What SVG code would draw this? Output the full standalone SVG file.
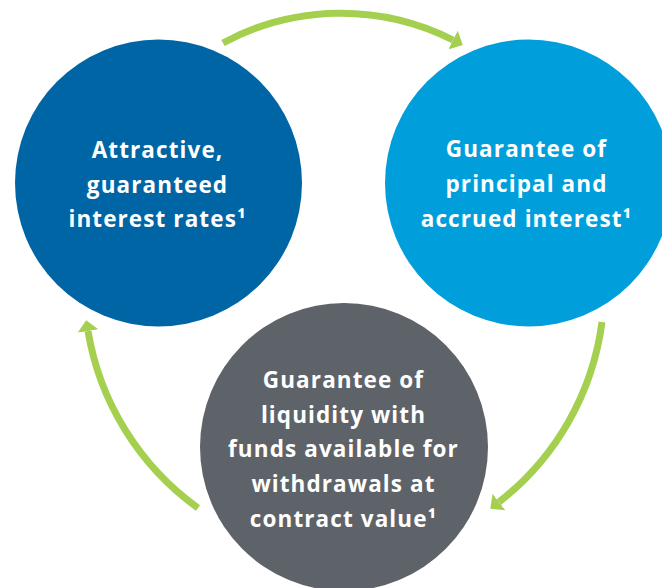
<svg xmlns="http://www.w3.org/2000/svg" width="662" height="588" viewBox="0 0 662 588">
<style>
.lbl{font-family:"Open Sans","Liberation Sans",sans-serif;font-weight:700;font-size:22.5px;letter-spacing:1.1px;fill:#ffffff;text-anchor:middle}
.arc{fill:none;stroke:#A5D04F;stroke-width:7;marker-end:url(#ah)}
</style>
<defs>
<marker id="ah" markerUnits="userSpaceOnUse" viewBox="0 -10.5 11 21" refX="0" refY="0" markerWidth="11" markerHeight="21" orient="auto">
<path d="M0,-10.5 L11,0 L0,10.5 z" fill="#A5D04F"/>
</marker>
</defs>
<rect width="662" height="588" fill="#ffffff"/>
<g id="connectors">
<path class="arc" d="M223,43 A248,248 0 0 1 453,40"/>
<path class="arc" d="M602,322 A273,273 0 0 1 499,502"/>
<path class="arc" d="M198,508 A273,273 0 0 1 88,331"/>
</g>
<g id="node-rates">
<circle cx="158.5" cy="183" r="143.5" fill="#0065A4"/>
<text class="lbl" x="157.5" y="157.5">Attractive,</text>
<text class="lbl" x="157.5" y="192.5">guaranteed</text>
<text class="lbl" x="157.5" y="227">interest rates¹</text>
</g>
<g id="node-principal">
<circle cx="528.5" cy="183" r="143.5" fill="#009FDB"/>
<text class="lbl" x="526.5" y="157">Guarantee of</text>
<text class="lbl" x="526.5" y="192">principal and</text>
<text class="lbl" x="526.5" y="227">accrued interest¹</text>
</g>
<g id="node-liquidity">
<circle cx="344" cy="447" r="144" fill="#5E6369"/>
<text class="lbl" x="343.5" y="387.5">Guarantee of</text>
<text class="lbl" x="343.5" y="422.5">liquidity with</text>
<text class="lbl" x="343.5" y="457">funds available for</text>
<text class="lbl" x="343.5" y="491.5">withdrawals at</text>
<text class="lbl" x="343.5" y="526.5">contract value¹</text>
</g>
</svg>
